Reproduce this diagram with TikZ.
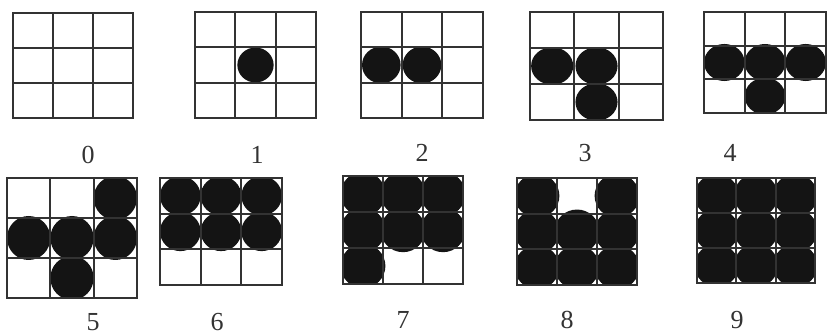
\documentclass[tikz,border=0pt]{standalone}
\usepackage{fontspec}
\setmainfont{Liberation Serif}
\tikzset{
  gridline/.style={draw=black!80, line width=2pt},
  dot/.style={fill=black!92},
  lbl/.style={font=\fontsize{26}{26}\selectfont, text=black!80}
}
% #1 x0, #2 y0, #3 x1, #4 y1, #5 dot list c/r, #6 radius factor
\newcommand\boardgrid[6]{%
  \begin{scope}
  \clip (#1,#2) rectangle (#3,#4);
  \foreach \c/\r in {#5}{%
    \fill[dot] ({#1+(#3-#1)*(\c-0.5)/3},{#2+(#4-#2)*(\r-0.5)/3})
      ellipse ({(#3-#1)/3*#6*0.5} and {(#4-#2)/3*#6*0.55});
  }
  \end{scope}
  \draw[gridline] (#1,#2) rectangle (#3,#4);
  \draw[gridline] ({#1+(#3-#1)/3},#2) -- ({#1+(#3-#1)/3},#4);
  \draw[gridline] ({#1+2*(#3-#1)/3},#2) -- ({#1+2*(#3-#1)/3},#4);
  \draw[gridline] (#1,{#2+(#4-#2)/3}) -- (#3,{#2+(#4-#2)/3});
  \draw[gridline] (#1,{#2+2*(#4-#2)/3}) -- (#3,{#2+2*(#4-#2)/3});
}
\begin{document}
\begin{tikzpicture}[x=1pt,y=-1pt]
\useasboundingbox (0,0) rectangle (827,336);
\fill[white] (0,0) rectangle (827,336);
% grid 0 (empty)
\draw[gridline] (13,13) rectangle (133,118);
\draw[gridline] (53,13) -- (53,118);
\draw[gridline] (93,13) -- (93,118);
\draw[gridline] (13,48) -- (133,48);
\draw[gridline] (13,83) -- (133,83);
\boardgrid{195}{12}{316}{118}{2/2}{0.9}
\boardgrid{361}{12}{483}{118}{1/2,2/2}{0.95}
\boardgrid{530}{12}{663}{120}{1/2,2/2,2/3}{0.95}
\boardgrid{704}{12}{826}{113}{1/2,2/2,3/2,2/3}{1.0}
\boardgrid{7}{178}{137}{298}{3/1,1/2,2/2,3/2,2/3}{1.0}
\boardgrid{160}{178}{282}{285}{1/1,2/1,3/1,1/2,2/2,3/2}{1.0}
\boardgrid{343}{176}{463}{284}{1/1,1/2,1/3,2/1,3/1,2/2,3/2}{1.12}
\boardgrid{517}{178}{637}{285}{1/1,3/1,1/2,2/2,3/2,1/3,2/3,3/3}{1.12}
\boardgrid{697}{178}{815}{283}{1/1,2/1,3/1,1/2,2/2,3/2,1/3,2/3,3/3}{1.12}
% labels
\node[lbl] (l0) at (88,155) {0};
\node[lbl] (l1) at (257,155) {1};
\node[lbl] (l2) at (422,153) {2};
\node[lbl] (l3) at (585,153) {3};
\node[lbl] (l4) at (730,153) {4};
\node[lbl] (l5) at (93,322) {5};
\node[lbl] (l6) at (217,322) {6};
\node[lbl] (l7) at (403,320) {7};
\node[lbl] (l8) at (567,320) {8};
\node[lbl] (l9) at (737,320) {9};
\end{tikzpicture}
\end{document}
